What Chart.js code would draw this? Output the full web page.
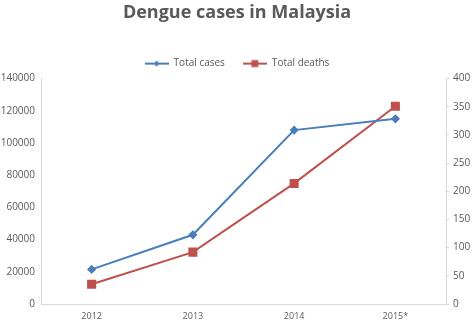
<!DOCTYPE html>
<html>
<head>
<meta charset="utf-8">
<script src="https://cdn.jsdelivr.net/npm/chart.js@4/dist/chart.umd.min.js"></script>
<style>
    html, body { margin: 0; padding: 0; background: #fff; }
    #wrap { width: 474px; height: 323px; }
</style>
</head>
<body>
<div id="wrap"><canvas id="chart" width="474" height="323"></canvas></div>
<script>
// Chart data
const years = ["2012", "2013", "2014", "2015*"];
const totalCases = [21500, 43000, 108000, 115000];
const totalDeaths = [35, 92, 214, 351];
const casesTicks = [0, 20000, 40000, 60000, 80000, 100000, 120000, 140000];
const deathsTicks = [0, 50, 100, 150, 200, 250, 300, 350, 400];

const blue = "#4a7ebb";
const red = "#c0504d";
const textGray = "#595959";
const axisGray = "#d9d9d9";

// legend marker: short line with the series point on it
function legendMarker(color, shape) {
    const c = document.createElement("canvas");
    c.width = 24;
    c.height = 10;
    const ctx = c.getContext("2d");
    ctx.strokeStyle = color;
    ctx.fillStyle = color;
    ctx.lineWidth = 2;
    ctx.beginPath();
    ctx.moveTo(0, 5);
    ctx.lineTo(24, 5);
    ctx.stroke();
    if (shape === "diamond") {
        ctx.beginPath();
        ctx.moveTo(12, 2);
        ctx.lineTo(15, 5);
        ctx.lineTo(12, 8);
        ctx.lineTo(9, 5);
        ctx.closePath();
        ctx.fill();
    } else {
        ctx.fillRect(8.5, 1.5, 7, 7);
    }
    return c;
}

const markers = [legendMarker(blue, "diamond"), legendMarker(red, "square")];

new Chart(document.getElementById("chart").getContext("2d"), {
    type: "line",
    data: {
        labels: years,
        datasets: [{
            label: "Total cases",
            data: totalCases,
            yAxisID: "y",
            borderColor: blue,
            backgroundColor: blue,
            borderWidth: 2,
            pointStyle: "rectRot",
            pointRadius: 3.2,
            pointHoverRadius: 3.2,
            tension: 0
        }, {
            label: "Total deaths",
            data: totalDeaths,
            yAxisID: "y1",
            borderColor: red,
            backgroundColor: red,
            borderWidth: 2,
            pointStyle: "rect",
            pointRadius: 5,
            pointHoverRadius: 5,
            tension: 0
        }]
    },
    options: {
        responsive: false,
        animation: false,
        layout: { padding: 0 },
        plugins: {
            title: {
                display: true,
                text: "Dengue cases in Malaysia",
                color: textGray,
                font: { family: "'Open Sans'", size: 18, weight: "bold" },
                padding: { top: 2, bottom: 17 }
            },
            legend: {
                position: "top",
                labels: {
                    color: textGray,
                    font: { family: "'Open Sans'", size: 10 },
                    usePointStyle: true,
                    pointStyleWidth: 24,
                    boxHeight: 10,
                    padding: 18,
                    generateLabels: chart => chart.data.datasets.map((ds, i) => ({
                        text: ds.label,
                        fontColor: textGray,
                        pointStyle: markers[i],
                        datasetIndex: i,
                        hidden: false,
                        lineWidth: 0
                    }))
                }
            },
            tooltip: { enabled: false }
        },
        scales: {
            x: {
                offset: true,
                grid: { display: false, drawTicks: false },
                border: { color: axisGray },
                ticks: { color: textGray, font: { family: "'Open Sans'", size: 9 }, padding: 7 },
                afterFit: s => { s.height = 19; }
            },
            y: {
                position: "left",
                min: 0,
                max: 140000,
                afterBuildTicks: s => { s.ticks = casesTicks.map(v => ({ value: v })); },
                grid: { display: false, drawTicks: false },
                border: { color: axisGray },
                ticks: {
                    color: textGray,
                    font: { family: "'Open Sans'", size: 10 },
                    padding: 6,
                    callback: v => String(v)
                },
                afterFit: s => { s.width = 41; }
            },
            y1: {
                position: "right",
                min: 0,
                max: 400,
                afterBuildTicks: s => { s.ticks = deathsTicks.map(v => ({ value: v })); },
                grid: { drawOnChartArea: false, color: axisGray, tickLength: 3 },
                border: { color: axisGray },
                ticks: {
                    color: textGray,
                    font: { family: "'Open Sans'", size: 10 },
                    padding: 4,
                    callback: v => String(v)
                },
                afterFit: s => { s.width = 28; }
            }
        }
    }
});
</script>
</body>
</html>
